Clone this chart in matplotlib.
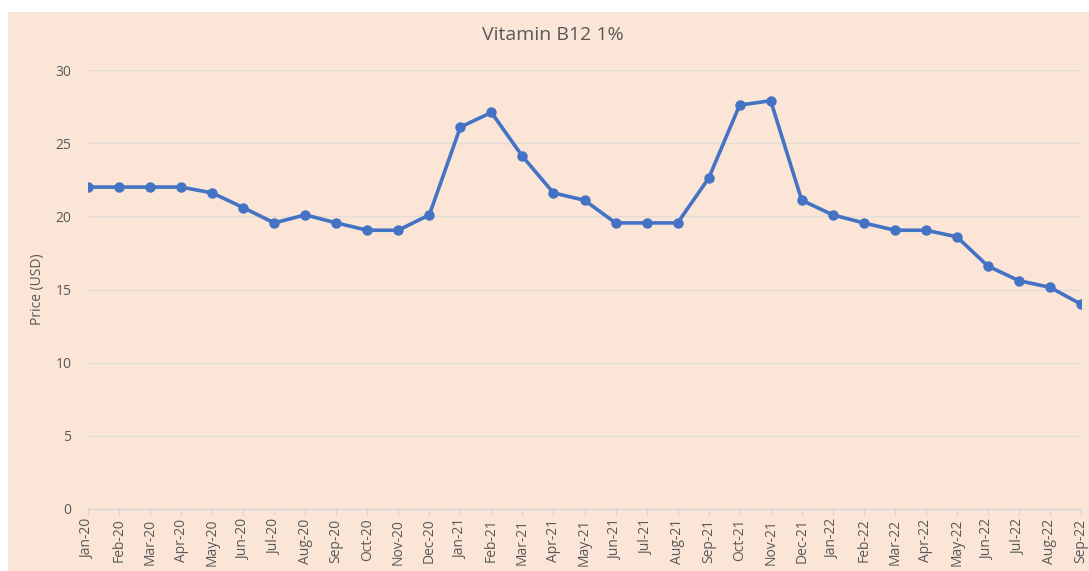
import matplotlib.pyplot as plt
from matplotlib.patches import Rectangle

# Monthly prices
months = ['Jan-20', 'Feb-20', 'Mar-20', 'Apr-20', 'May-20', 'Jun-20', 'Jul-20', 'Aug-20',
          'Sep-20', 'Oct-20', 'Nov-20', 'Dec-20', 'Jan-21', 'Feb-21', 'Mar-21', 'Apr-21',
          'May-21', 'Jun-21', 'Jul-21', 'Aug-21', 'Sep-21', 'Oct-21', 'Nov-21', 'Dec-21',
          'Jan-22', 'Feb-22', 'Mar-22', 'Apr-22', 'May-22', 'Jun-22', 'Jul-22', 'Aug-22',
          'Sep-22']
prices = [22, 22, 22, 22, 21.6, 20.6, 19.55, 20.1,
          19.55, 19.05, 19.05, 20.1, 26.1, 27.1, 24.1, 21.6,
          21.1, 19.55, 19.55, 19.55, 22.6, 27.6, 27.9, 21.1,
          20.1, 19.55, 19.05, 19.05, 18.6, 16.6, 15.6, 15.15,
          14.0]
y_ticks = [0, 5, 10, 15, 20, 25, 30]

bg = '#FAE5D7'
text_col = '#595959'
plt.rcParams['font.family'] = ['Open Sans', 'DejaVu Sans']

fig = plt.figure(figsize=(10.89, 5.71), dpi=100, facecolor='white')
fig.patches.append(Rectangle((8 / 1089, 0), 1, 1 - 12 / 571, transform=fig.transFigure,
                             facecolor=bg, edgecolor='none', zorder=-10))

ax = fig.add_axes([88 / 1089, 1 - 509 / 571, (1081 - 88) / 1089, (509 - 70) / 571])
ax.set_facecolor('none')

x = list(range(len(months)))
ax.plot(x, prices, color='#4472C4', linewidth=2.6, marker='o', markersize=6.5, zorder=3)

ax.set_xlim(0, len(months) - 1)
ax.set_ylim(0, 30)
ax.set_yticks(y_ticks)
ax.set_xticks(x)
ax.set_xticklabels(months, rotation=90, fontsize=10, color=text_col)
ax.tick_params(axis='y', length=0, labelsize=10, colors=text_col, pad=12)
ax.tick_params(axis='x', length=4, color='#D0D5DC', pad=3)
ax.grid(axis='y', color='#E2DCD6', linewidth=1)
ax.set_axisbelow(True)

for s in ['top', 'right', 'left']:
    ax.spines[s].set_visible(False)
ax.spines['bottom'].set_color('#D0D5DC')

ax.set_ylabel('Price (USD)', fontsize=10, color=text_col)
ax.yaxis.set_label_coords(-43 / 993, 0.5)
fig.text(553 / 1089, 1 - 35 / 571, 'Vitamin B12 1%', ha='center', va='center',
         fontsize=14, color=text_col)

plt.savefig('out.png', dpi=100)
